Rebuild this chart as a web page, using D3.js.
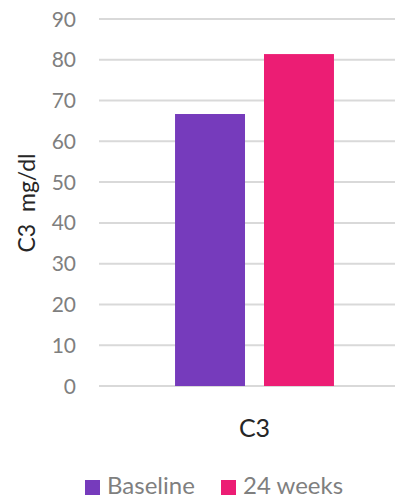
<!DOCTYPE html>
<html>
<head>
<meta charset="utf-8">
<script src="https://cdn.jsdelivr.net/npm/d3@7"></script>
<style>
  html, body { margin: 0; padding: 0; background: #fff; }
  svg { display: block; font-family: Lato, "Open Sans", sans-serif; }
</style>
</head>
<body>
<svg id="chart" width="395" height="498"></svg>
<script>
// C3 complement level, baseline vs 24 weeks
const categories = ["C3"];
const seriesNames = ["Baseline", "24 weeks"];
const seriesColors = ["#763BBC", "#EC1D74"];
const baselineValues = [66.7];
const week24Values = [81.4];
const yTicks = [0, 10, 20, 30, 40, 50, 60, 70, 80, 90];

const rows = categories.map((c, i) => ({
  category: c,
  values: [
    { series: seriesNames[0], value: baselineValues[i] },
    { series: seriesNames[1], value: week24Values[i] }
  ]
}));

const svg = d3.select("#chart");
const plot = { left: 99, right: 410, top: 19, bottom: 386 };

const y = d3.scaleLinear().domain([0, 90]).range([plot.bottom, plot.top]);
const x0 = d3.scaleBand().domain(categories).range([plot.left, plot.right]).padding(0.3236);
const x1 = d3.scaleBand().domain(seriesNames).range([0, x0.bandwidth()]).paddingInner(0.2135).paddingOuter(0);
const color = d3.scaleOrdinal().domain(seriesNames).range(seriesColors);

// horizontal gridlines
svg.append("g")
  .selectAll("line")
  .data(yTicks)
  .join("line")
  .attr("x1", plot.left)
  .attr("x2", plot.right)
  .attr("y1", d => y(d))
  .attr("y2", d => y(d))
  .attr("stroke", "#d9d9d9")
  .attr("stroke-width", 2);

// y tick labels
svg.append("g")
  .selectAll("text")
  .data(yTicks)
  .join("text")
  .attr("x", 76)
  .attr("y", d => y(d))
  .attr("dy", "0.36em")
  .attr("text-anchor", "end")
  .attr("font-size", 21)
  .attr("fill", "#7f7f7f")
  .text(d => d);

// bars
svg.append("g")
  .selectAll("g")
  .data(rows)
  .join("g")
  .attr("transform", d => `translate(${x0(d.category)},0)`)
  .selectAll("rect")
  .data(d => d.values)
  .join("rect")
  .attr("x", d => x1(d.series))
  .attr("width", x1.bandwidth())
  .attr("y", d => y(d.value))
  .attr("height", d => y(0) - y(d.value))
  .attr("fill", d => color(d.series));

// category label
svg.append("g")
  .selectAll("text")
  .data(categories)
  .join("text")
  .attr("x", d => x0(d) + x0.bandwidth() / 2)
  .attr("y", 437)
  .attr("text-anchor", "middle")
  .attr("font-size", 25)
  .attr("fill", "#262626")
  .text(d => d);

// y axis title
svg.append("text")
  .attr("transform", "translate(35,203) rotate(-90)")
  .attr("text-anchor", "middle")
  .attr("font-size", 23)
  .attr("fill", "#262626")
  .attr("xml:space", "preserve")
  .style("white-space", "pre")
  .text("C3  mg/dl");

// legend
const legendX = [85, 221];
const legend = svg.append("g")
  .selectAll("g")
  .data(seriesNames)
  .join("g")
  .attr("transform", (d, i) => `translate(${legendX[i]},480)`);
legend.append("rect")
  .attr("width", 15)
  .attr("height", 15)
  .attr("fill", d => color(d));
legend.append("text")
  .attr("x", 22)
  .attr("y", 14)
  .attr("font-size", 24)
  .attr("fill", "#7f7f7f")
  .text(d => d);
</script>
</body>
</html>
